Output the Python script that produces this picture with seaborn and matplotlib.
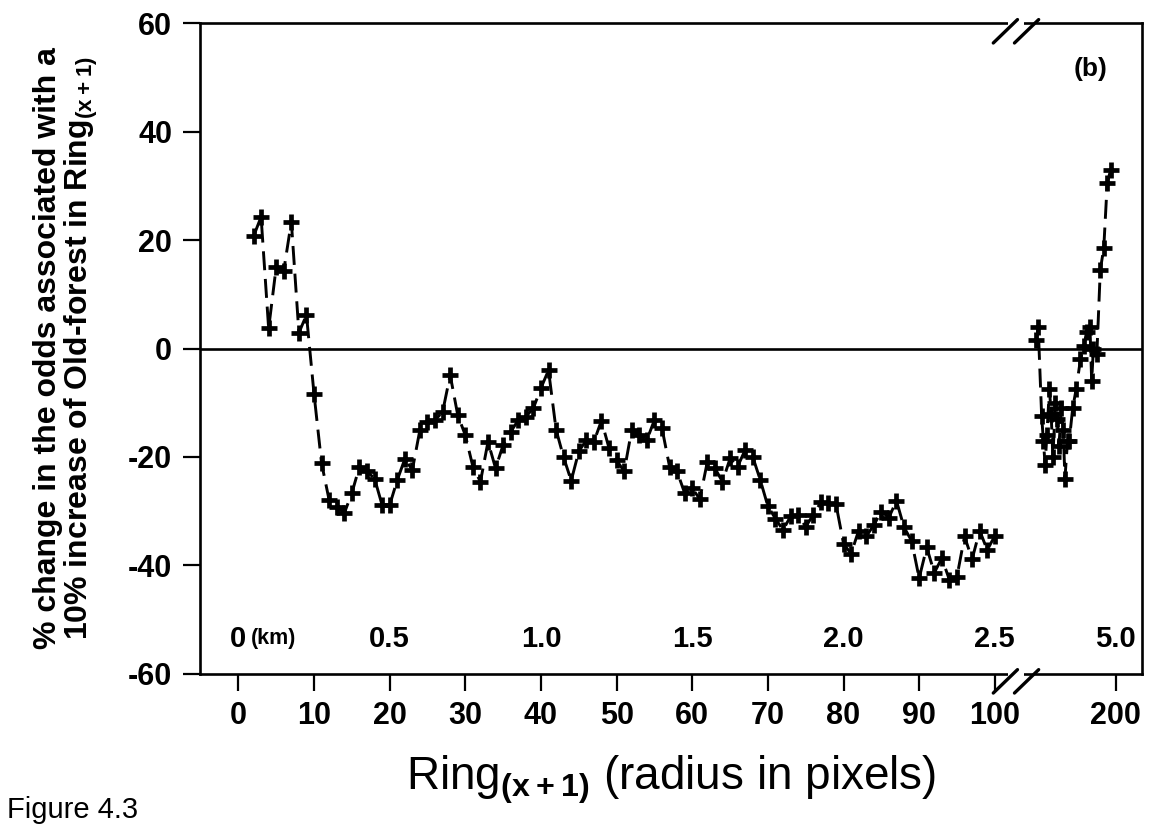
import numpy as np
import pandas as pd
import matplotlib
matplotlib.use("Agg")
import matplotlib.pyplot as plt
import seaborn as sns

# --- data -------------------------------------------------------------
ring_near = list(range(2, 101))
odds_near = [
    20.7, 24.3, 3.7, 15.1, 14.4, 23.4, 2.9, 6.2, -8.4,            # 2-10
    -21.2, -28.0, -29.2, -30.4, -26.7, -21.8, -22.7, -24.0, -28.9, -28.9,  # 11-20
    -24.3, -20.4, -22.4, -15.0, -13.5, -13.2, -11.7, -4.9, -12.3, -16.0,   # 21-30
    -21.8, -24.6, -17.2, -22.1, -17.8, -15.4, -13.2, -12.6, -11.0, -7.3,   # 31-40
    -4.0, -15.0, -20.1, -24.4, -19.0, -16.9, -17.2, -13.3, -18.4, -20.6,   # 41-50
    -22.7, -15.0, -16.0, -16.9, -13.2, -14.7, -21.8, -22.7, -26.7, -25.8,  # 51-60
    -27.8, -20.9, -22.1, -24.6, -20.3, -21.8, -18.7, -20.0, -24.3, -29.1,  # 61-70
    -31.4, -33.5, -31.0, -30.7, -32.9, -30.7, -28.4, -28.6, -28.7, -36.0,  # 71-80
    -37.9, -33.6, -34.7, -32.6, -30.1, -31.2, -28.1, -33.0, -35.5, -42.4,  # 81-90
    -36.7, -41.4, -38.7, -42.7, -42.1, -34.7, -38.9, -33.6, -37.2, -34.6,  # 91-100
]

ring_far = [108, 110, 114, 116, 118, 120, 123, 125, 127, 130, 132, 134, 137,
            139, 141, 144, 146, 150, 154, 159, 163, 166, 170, 172, 174, 178,
            182, 186, 190, 194]
odds_far = [1.5, 4.0, -12.5, -17.0, -21.5, -16.0, -7.5, -12.0, -20.0, -10.0,
            -13.0, -18.0, -11.0, -15.0, -24.0, -17.0, -17.0, -11.0, -7.5, -2.0,
            0.5, 3.0, 4.0, -6.0, 0.0, -1.0, 14.5, 18.5, 30.5, 33.0]

x_ticks = [0, 10, 20, 30, 40, 50, 60, 70, 80, 90, 100, 200]
x_tick_labels = ["0", "10", "20", "30", "40", "50", "60", "70", "80", "90", "100", "200"]
y_ticks = [-60, -40, -20, 0, 20, 40, 60]
km_rings = [20, 40, 60, 80, 100, 200]
km_labels = ["0.5", "1.0", "1.5", "2.0", "2.5", "5.0"]

# --- broken axis: rings beyond 100 are squeezed into a short segment ----
BREAK_AT = 100
FAR_START = 104.6
FAR_SCALE = 0.114


def axis_pos(r):
    r = np.asarray(r, dtype=float)
    return np.where(r <= BREAK_AT, r, FAR_START + (r - BREAK_AT) * FAR_SCALE)


near = pd.DataFrame({"pos": axis_pos(ring_near), "odds": odds_near})
far = pd.DataFrame({"pos": axis_pos(ring_far), "odds": odds_far})

# --- style ------------------------------------------------------------
sns.set_theme(style="ticks")
plt.rcParams["font.family"] = ["Liberation Sans", "DejaVu Sans"]
plt.rcParams["mathtext.fontset"] = "custom"
plt.rcParams["mathtext.rm"] = "Liberation Sans:bold"
plt.rcParams["mathtext.bf"] = "Liberation Sans:bold"
plt.rcParams["axes.unicode_minus"] = False
for key in ("text.color", "axes.labelcolor", "xtick.color", "ytick.color",
            "xtick.labelcolor", "ytick.labelcolor"):
    plt.rcParams[key] = "black"

fig = plt.figure(figsize=(11.55, 8.24), dpi=100)
ax = fig.add_axes([0.173, 0.1826, 0.816, 0.7889])

line_kw = dict(color="black", linewidth=2.1, dashes=(6.5, 3.0), marker="+",
               markersize=12, markeredgewidth=3.4, markeredgecolor="black")
sns.lineplot(data=near, x="pos", y="odds", ax=ax, sort=False, **line_kw)
sns.lineplot(data=far, x="pos", y="odds", ax=ax, sort=False, **line_kw)

ax.axhline(0, color="black", linewidth=1.9, zorder=1)

ax.set_xlim(-5.1, 119.5)
ax.set_ylim(-60, 60)
ax.set_xticks(axis_pos(x_ticks))
ax.set_xticklabels(x_tick_labels)
ax.set_yticks(y_ticks)

for side in ["left", "right", "top", "bottom"]:
    ax.spines[side].set_visible(True)
    ax.spines[side].set_linewidth(1.9)
    ax.spines[side].set_color("black")

ax.tick_params(axis="both", direction="out", length=12, width=1.6,
               color="black", labelsize=22, pad=8)
for lab in ax.get_xticklabels() + ax.get_yticklabels():
    lab.set_fontweight("bold")

ax.set_xlabel(r"Ring$_{\mathbf{(x + 1)}}$ (radius in pixels)", fontsize=33,
              labelpad=16)
ax.set_ylabel("% change in the odds associated with a\n"
              r"10% increase of Old-forest in Ring$_{\mathbf{(x + 1)}}$",
              fontsize=23, fontweight="bold", linespacing=0.98, labelpad=20)

# distance in km along the bottom of the plot
ax.text(0, -53.6, "0", fontsize=21, fontweight="bold", ha="center", va="center")
ax.text(1.6, -53.6, "(km)", fontsize=15.5, fontweight="bold", ha="left", va="center")
for r, lab in zip(km_rings, km_labels):
    ax.text(axis_pos(r), -53.6, lab, fontsize=21, fontweight="bold",
            ha="center", va="center")

ax.text(0.963, 0.93, "(b)", transform=ax.transAxes, fontsize=19,
        fontweight="bold", ha="right", va="center")

# break marks on the top and bottom frame
gap_lo, gap_hi = 101.4, 104.2
trans = ax.get_xaxis_transform()
for y0, shift in ((0.0, -0.012), (1.0, -0.012)):
    ax.plot([gap_lo + 0.4, gap_hi - 0.4], [y0, y0], transform=trans,
            color="white", linewidth=4, clip_on=False, zorder=5,
            solid_capstyle="butt")
    for xc in (gap_lo, gap_hi):
        ax.plot([xc - 1.6, xc + 1.6], [y0 + shift - 0.018, y0 + shift + 0.018],
                transform=trans, color="black", linewidth=2.4,
                clip_on=False, zorder=6)

fig.text(0.006, 0.0, "Figure 4.3", fontsize=21, ha="left", va="bottom")

fig.savefig("out.png", dpi=100)
